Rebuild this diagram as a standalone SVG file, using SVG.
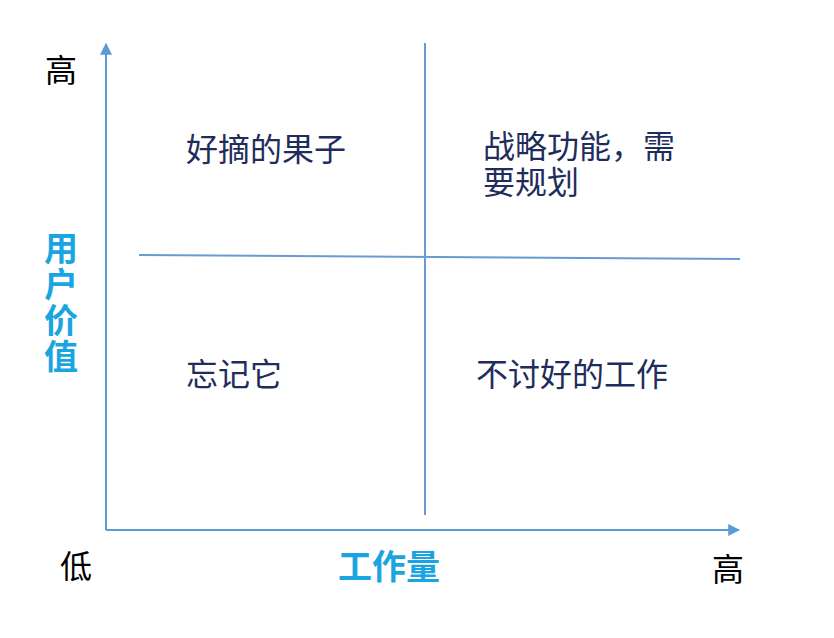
<svg xmlns="http://www.w3.org/2000/svg" width="834" height="638" viewBox="0 0 834 638">
<style>
.ax{stroke:#5B9BD5;stroke-width:2;fill:none}
.ln{stroke:#6A9BD0;stroke-width:2;fill:none}
.lbl{font-family:"Noto Sans CJK SC","Liberation Sans",sans-serif;fill:#000;font-size:32px}
.blue{font-family:"Noto Sans CJK SC","Liberation Sans",sans-serif;fill:#1BA5E0;font-size:34px;font-weight:bold}
.q{font-family:"Noto Sans CJK SC","Liberation Sans",sans-serif;fill:#1F2D5C;font-size:32px}
</style>
<defs>
<marker id="ah" viewBox="0 0 10 10" refX="9" refY="5" markerWidth="6" markerHeight="6" orient="auto" markerUnits="strokeWidth">
<path d="M0,0 L10,5 L0,10 z" fill="#5B9BD5"/>
</marker>
</defs>
<rect width="834" height="638" fill="#fff"/>
<g id="connectors">
<path class="ax" d="M106,530 L106,44" marker-end="url(#ah)"/>
<path class="ax" d="M106,530 L739,530" marker-end="url(#ah)"/>
<path class="ln" d="M139,255 L740,259"/>
<path class="ln" d="M425,43 L425,515"/>
</g>
<g id="y-high"><text class="lbl" x="45" y="82">高</text></g>
<g id="y-axis-label">
<text class="blue" x="61" y="231" style="writing-mode:vertical-rl;text-orientation:upright;letter-spacing:2px">用户价值</text>
</g>
<g id="low"><text class="lbl" x="60" y="578">低</text></g>
<g id="x-axis-label"><text class="blue" x="338" y="579">工作量</text></g>
<g id="x-high"><text class="lbl" x="712" y="581">高</text></g>
<g id="q-top-left"><text class="q" x="186" y="161">好摘的果子</text></g>
<g id="q-top-right"><text class="q" x="483" y="158">战略功能，需<tspan x="483" dy="36">要规划</tspan></text></g>
<g id="q-bottom-left"><text class="q" x="186" y="386">忘记它</text></g>
<g id="q-bottom-right"><text class="q" x="476" y="386">不讨好的工作</text></g>
</svg>
